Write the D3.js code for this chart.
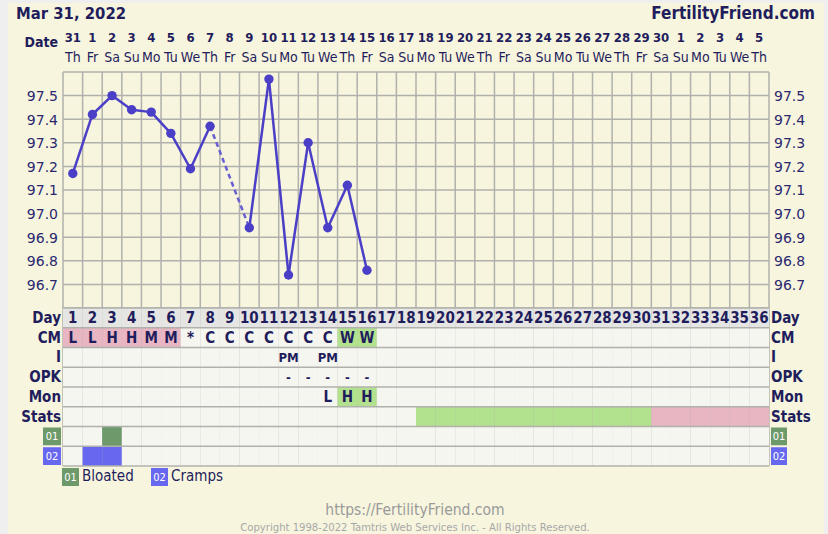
<!DOCTYPE html>
<html><head><meta charset="utf-8">
<script src="https://cdn.jsdelivr.net/npm/d3@7"></script>
<style>
html,body{margin:0;padding:0;background:#efefef;}
svg{display:block;}
text{font-family:"DejaVu Sans",Verdana,sans-serif;font-stretch:condensed;}
text.plain{font-stretch:normal;}
</style></head>
<body>
<script>
// ---------- DATA ----------
const chartDate = "Mar 31, 2022";
const siteName = "FertilityFriend.com";
const dateLabels = ["31","1","2","3","4","5","6","7","8","9","10","11","12","13","14","15","16","17","18","19","20","21","22","23","24","25","26","27","28","29","30","1","2","3","4","5"];
const weekdays = ["Th","Fr","Sa","Su","Mo","Tu","We","Th","Fr","Sa","Su","Mo","Tu","We","Th","Fr","Sa","Su","Mo","Tu","We","Th","Fr","Sa","Su","Mo","Tu","We","Th","Fr","Sa","Su","Mo","Tu","We","Th"];
const cycleDays = d3.range(1, 37);
const temps = [97.17,97.42,97.50,97.44,97.43,97.34,97.19,97.37,null,96.94,97.57,96.74,97.30,96.94,97.12,96.76];
const tempTicks = [96.7,96.8,96.9,97.0,97.1,97.2,97.3,97.4,97.5];
const cmValues = ["L","L","H","H","M","M","*","C","C","C","C","C","C","C","W","W"];
const intercourse = {12:"PM",14:"PM"};
const opkValues = {12:"-",13:"-",14:"-",15:"-",16:"-"};
const monValues = {14:"L",15:"H",16:"H"};
const statsGreen = d3.range(19, 31);
const statsPink = d3.range(31, 37);
const rowLabels = ["Day","CM","I","OPK","Mon","Stats","01","02"];
const symptomCodes = ["01","02"];
const symptomNames = ["Bloated","Cramps"];
const symptomDays = [[3],[2,3]];
const footerUrl = "https://FertilityFriend.com";
const footerCopy = "Copyright 1998-2022 Tamtris Web Services Inc. - All Rights Reserved.";

// ---------- STYLE ----------
const W = 828, H = 534;
const navy = "#1f1d5c", gridCol = "#b0b0ad", cream = "#f7f5de", cellBg = "#f6f6f1";
const pink = "#e8b6c3", green = "#b3e28f", badgeGreen = "#6e9a6b", badgeBlue = "#6767ef", lineCol = "#4a3fc6";
const symColors = [badgeGreen, badgeBlue];

const x0 = 63, x1 = 769, yTop = 72, yTempBot = 308, rowH = 19.75;
const svg = d3.select("body").append("svg").attr("width", W).attr("height", H);
svg.append("rect").attr("x", 8).attr("y", 3).attr("width", 816).attr("height", H - 3).attr("fill", cream);

const x = d3.scaleBand().domain(cycleDays).range([x0, x1]).padding(0);
const cw = x.bandwidth();
const y = d3.scaleLinear().domain([96.6, 97.6]).range([yTempBot, yTop]);
const rowY = i => yTempBot + i * rowH;

// header
svg.append("text").attr("x", 16).attr("y", 19).attr("font-size", 16.5).attr("font-weight", "bold").attr("fill", navy).text(chartDate);
svg.append("text").attr("x", 815).attr("y", 19).attr("text-anchor", "end").attr("font-size", 17).attr("font-weight", "bold").attr("fill", navy).text(siteName);
svg.append("text").attr("x", 58).attr("y", 47).attr("text-anchor", "end").attr("font-size", 14).attr("font-weight", "bold").attr("fill", navy).text("Date");
svg.append("g").selectAll("text").data(dateLabels).join("text")
  .attr("x", (d, i) => x(cycleDays[i]) + cw / 2).attr("y", 42).attr("text-anchor", "middle")
  .attr("font-size", 13).attr("font-weight", "bold").attr("fill", navy).text(d => d);
svg.append("g").selectAll("text").data(weekdays).join("text")
  .attr("x", (d, i) => x(cycleDays[i]) + cw / 2).attr("y", 62).attr("text-anchor", "middle")
  .attr("font-size", 14).attr("fill", navy).text(d => d);

// temperature grid
const g = svg.append("g");
g.selectAll("line.h").data(d3.range(96.6, 97.65, 0.1)).join("line")
  .attr("x1", x0).attr("x2", x1).attr("y1", d => y(d)).attr("y2", d => y(d))
  .attr("stroke", gridCol).attr("stroke-width", 1.5);

// table cells
const tbl = svg.append("g");
for (let r = 0; r < 8; r++) {
  tbl.selectAll(null).data(cycleDays).join("rect")
    .attr("x", d => x(d)).attr("y", rowY(r)).attr("width", cw).attr("height", rowH)
    .attr("fill", d => {
      if (r === 0) return "#e5e5e3";
      if (r === 1) { const v = cmValues[d - 1]; if (v === "W") return green; if (v && "LHM".includes(v)) return pink; }
      if (r === 4 && monValues[d] === "H") return green;
      if (r === 5) { if (statsGreen.includes(d)) return green; if (statsPink.includes(d)) return pink; }
      if (r >= 6 && symptomDays[r - 6].includes(d)) return symColors[r - 6];
      return cellBg;
    });
}
// vertical grid lines
g.selectAll("line.v").data(d3.range(0, 37)).join("line")
  .attr("x1", i => x0 + i * cw).attr("x2", i => x0 + i * cw).attr("y1", yTop).attr("y2", rowY(8))
  .attr("stroke", gridCol).attr("stroke-width", 1.5);
tbl.selectAll("line.rh").data(d3.range(0, 9)).join("line")
  .attr("x1", x0).attr("x2", x1).attr("y1", r => rowY(r)).attr("y2", r => rowY(r))
  .attr("stroke", gridCol).attr("stroke-width", 1.5);

// axis labels
const yl = d3.axisLeft(y).tickValues(tempTicks).tickFormat(d3.format(".1f")).tickSize(0).tickPadding(0);
const yr = d3.axisRight(y).tickValues(tempTicks).tickFormat(d3.format(".1f")).tickSize(0).tickPadding(0);
const ga = svg.append("g").attr("transform", `translate(${x0 - 5},0)`).call(yl);
const gb = svg.append("g").attr("transform", `translate(${x1 + 5},0)`).call(yr);
[ga, gb].forEach(a => { a.select(".domain").remove(); a.selectAll("text").attr("class", "plain").attr("font-size", 14).attr("fill", "#2b2870").attr("font-family", "DejaVu Sans").attr("dy", "0.35em"); });

// row labels
rowLabels.forEach((lab, r) => {
  if (r < 6) {
    svg.append("text").attr("x", x0 - 2).attr("y", rowY(r) + rowH / 2 + 5).attr("text-anchor", "end")
      .attr("font-size", 15).attr("font-weight", "bold").attr("fill", navy).text(lab);
    svg.append("text").attr("x", x1 + 2).attr("y", rowY(r) + rowH / 2 + 5)
      .attr("font-size", 15).attr("font-weight", "bold").attr("fill", navy).text(lab);
  } else {
    const k = r - 6;
    [[x0 - 20, 18], [x1 + 2, 16]].forEach(([bx, bw]) => {
      svg.append("rect").attr("x", bx).attr("y", rowY(r) + 1).attr("width", bw).attr("height", rowH - 2).attr("fill", symColors[k]);
      svg.append("text").attr("x", bx + bw / 2).attr("y", rowY(r) + rowH / 2 + 4).attr("text-anchor", "middle")
        .attr("font-size", 11).attr("fill", "#ffffff").text(lab);
    });
  }
});

// cell texts
const cellText = (r, d, t, size) => tbl.append("text").attr("x", x(d) + cw / 2).attr("y", rowY(r) + rowH / 2 + 5)
  .attr("text-anchor", "middle").attr("font-size", size).attr("font-weight", "bold").attr("fill", navy).text(t);
cycleDays.forEach(d => cellText(0, d, String(d), 15));
cmValues.forEach((v, i) => cellText(1, i + 1, v, 15));
Object.entries(intercourse).forEach(([d, v]) => cellText(2, +d, v, 13));
Object.entries(opkValues).forEach(([d, v]) => cellText(3, +d, v, 13));
Object.entries(monValues).forEach(([d, v]) => cellText(4, +d, v, 15));

// temperature line
const pts = temps.map((t, i) => ({ day: i + 1, t })).filter(p => p.t !== null);
const cx = d => x(d) + cw / 2;
const segs = d3.pairs(pts);
svg.append("g").selectAll("line").data(segs).join("line")
  .attr("x1", d => cx(d[0].day)).attr("y1", d => y(d[0].t)).attr("x2", d => cx(d[1].day)).attr("y2", d => y(d[1].t))
  .attr("stroke", d => d[1].day - d[0].day > 1 ? "#6a5fd2" : lineCol).attr("stroke-width", 2.5)
  .attr("stroke-dasharray", d => d[1].day - d[0].day > 1 ? "5,3.5" : null);
svg.append("g").selectAll("circle").data(pts).join("circle")
  .attr("cx", d => cx(d.day)).attr("cy", d => y(d.t)).attr("r", 4.7).attr("fill", lineCol);

// legend
const lg = svg.append("g");
const legX = [62, 151];
symptomCodes.forEach((c, k) => {
  lg.append("rect").attr("x", legX[k]).attr("y", 468).attr("width", 17).attr("height", 18).attr("fill", symColors[k]);
  lg.append("text").attr("x", legX[k] + 8.5).attr("y", 481).attr("text-anchor", "middle").attr("font-size", 11).attr("fill", "#fff").text(c);
  lg.append("text").attr("x", legX[k] + 20).attr("y", 481).attr("font-size", 15).attr("fill", navy).text(symptomNames[k]);
});

// footer
svg.append("text").attr("x", 415).attr("y", 515).attr("text-anchor", "middle").attr("font-size", 15.5).attr("fill", "#9a9a9a").text(footerUrl);
svg.append("text").attr("x", 415).attr("y", 531).attr("text-anchor", "middle").attr("font-size", 11.2).attr("fill", "#a8a8a8").text(footerCopy);
</script>
</body></html>
